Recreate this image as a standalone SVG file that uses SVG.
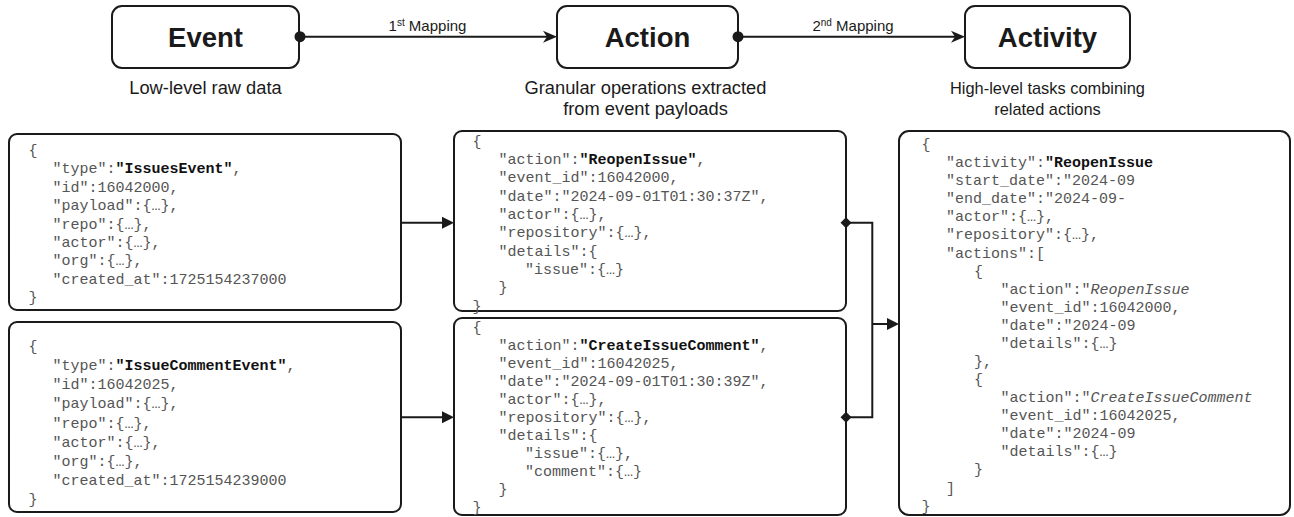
<svg xmlns="http://www.w3.org/2000/svg" width="1294" height="517" viewBox="0 0 1294 517">
<style>
.box{fill:#fff;stroke:#1a1a1a;stroke-width:2}
.title{font-family:"Liberation Sans",Arial,sans-serif;font-weight:bold;font-size:27.5px;fill:#1a1a1a;text-anchor:middle}
.sub{font-family:"Liberation Sans",Arial,sans-serif;font-size:18.3px;fill:#1a1a1a;text-anchor:middle}
.sub2{font-family:"Liberation Sans",Arial,sans-serif;font-size:16.4px;fill:#1a1a1a;text-anchor:middle}
.lbl{font-family:"Liberation Sans",Arial,sans-serif;font-size:15px;fill:#1a1a1a;text-anchor:middle}
.code{font-family:"Liberation Mono","Courier New",monospace;font-size:15px;fill:#555;white-space:pre}
.b{font-weight:bold;fill:#111}
.i{font-style:italic}
.ln{fill:none;stroke:#1a1a1a;stroke-width:2}
.hd{fill:#1a1a1a;stroke:none}
</style>

<g id="node-event">
<rect class="box" x="112" y="6" width="187" height="62" rx="10"/>
<text class="title" x="205.5" y="46.5">Event</text>
<text class="sub" x="205.5" y="94">Low-level raw data</text>
</g>

<g id="node-action">
<rect class="box" x="557" y="6" width="181" height="62" rx="10"/>
<text class="title" x="647.5" y="46.5">Action</text>
<text class="sub" x="645.5" y="94">Granular operations extracted</text>
<text class="sub" x="645.5" y="115">from event payloads</text>
</g>

<g id="node-activity">
<rect class="box" x="965" y="6" width="165" height="62" rx="10"/>
<text class="title" x="1047.5" y="46.5">Activity</text>
<text class="sub2" x="1047.5" y="94">High-level tasks combining</text>
<text class="sub2" x="1047.5" y="115">related actions</text>
</g>

<g id="node-event-json-1">
<rect class="box" x="9" y="134" width="392" height="176" rx="8"/>
<text class="code">
<tspan x="28.5" y="154.7">{</tspan>
<tspan x="52.5" y="173.1">"type":<tspan class="b">"IssuesEvent"</tspan>,</tspan>
<tspan x="52.5" y="191.6">"id":16042000,</tspan>
<tspan x="52.5" y="210">"payload":{…},</tspan>
<tspan x="52.5" y="228.5">"repo":{…},</tspan>
<tspan x="52.5" y="246.9">"actor":{…},</tspan>
<tspan x="52.5" y="265.4">"org":{…},</tspan>
<tspan x="52.5" y="283.8">"created_at":1725154237000</tspan>
<tspan x="28.5" y="302.3">}</tspan>
</text>
</g>

<g id="node-event-json-2">
<rect class="box" x="9" y="322" width="392" height="190" rx="8"/>
<text class="code">
<tspan x="28.5" y="350.7">{</tspan>
<tspan x="52.5" y="369.9">"type":<tspan class="b">"IssueCommentEvent"</tspan>,</tspan>
<tspan x="52.5" y="389.1">"id":16042025,</tspan>
<tspan x="52.5" y="408.3">"payload":{…},</tspan>
<tspan x="52.5" y="427.5">"repo":{…},</tspan>
<tspan x="52.5" y="446.7">"actor":{…},</tspan>
<tspan x="52.5" y="465.9">"org":{…},</tspan>
<tspan x="52.5" y="485.1">"created_at":1725154239000</tspan>
<tspan x="28.5" y="504.3">}</tspan>
</text>
</g>

<g id="node-action-json-1">
<rect class="box" x="454" y="131" width="392" height="180" rx="8"/>
<text class="code">
<tspan x="472.5" y="145.7">{</tspan>
<tspan x="498.5" y="164">"action":<tspan class="b">"ReopenIssue"</tspan>,</tspan>
<tspan x="498.5" y="182.4">"event_id":16042000,</tspan>
<tspan x="498.5" y="200.7">"date":"2024-09-01T01:30:37Z",</tspan>
<tspan x="498.5" y="219">"actor":{…},</tspan>
<tspan x="498.5" y="237.4">"repository":{…},</tspan>
<tspan x="498.5" y="255.7">"details":{</tspan>
<tspan x="525" y="274">″issue":{…}</tspan>
<tspan x="498.5" y="292.3">}</tspan>
<tspan x="472.5" y="310.7">}</tspan>
</text>
</g>

<g id="node-action-json-2">
<rect class="box" x="454" y="318" width="392" height="197" rx="8"/>
<text class="code">
<tspan x="472.5" y="332">{</tspan>
<tspan x="498.5" y="350">"action":<tspan class="b">"CreateIssueComment"</tspan>,</tspan>
<tspan x="498.5" y="368">"event_id":16042025,</tspan>
<tspan x="498.5" y="386">"date":"2024-09-01T01:30:39Z",</tspan>
<tspan x="498.5" y="404">"actor":{…},</tspan>
<tspan x="498.5" y="422">"repository":{…},</tspan>
<tspan x="498.5" y="440">"details":{</tspan>
<tspan x="525" y="458">″issue":{…},</tspan>
<tspan x="525" y="476">"comment":{…}</tspan>
<tspan x="498.5" y="494">}</tspan>
<tspan x="472.5" y="512">}</tspan>
</text>
</g>

<g id="node-activity-json">
<rect class="box" x="899" y="131" width="391" height="384" rx="10"/>
<text class="code">
<tspan x="921.5" y="149">{</tspan>
<tspan x="946" y="167.1">"activity":<tspan class="b">"ReopenIssue</tspan></tspan>
<tspan x="946" y="185.2">"start_date":"2024-09</tspan>
<tspan x="946" y="203.2">"end_date":"2024-09-</tspan>
<tspan x="946" y="221.3">"actor":{…},</tspan>
<tspan x="946" y="239.4">"repository":{…},</tspan>
<tspan x="946" y="257.5">"actions":[</tspan>
<tspan x="974" y="275.6">{</tspan>
<tspan x="1000.5" y="293.6">"action":"<tspan class="i">ReopenIssue</tspan></tspan>
<tspan x="1000.5" y="311.7">"event_id":16042000,</tspan>
<tspan x="1000.5" y="329.8">"date":"2024-09</tspan>
<tspan x="1000.5" y="347.9">"details":{…}</tspan>
<tspan x="974" y="366">},</tspan>
<tspan x="974" y="384">{</tspan>
<tspan x="1000.5" y="402.1">"action":"<tspan class="i">CreateIssueComment</tspan></tspan>
<tspan x="1000.5" y="420.2">"event_id":16042025,</tspan>
<tspan x="1000.5" y="438.3">"date":"2024-09</tspan>
<tspan x="1000.5" y="456.4">"details":{…}</tspan>
<tspan x="974" y="474.4">}</tspan>
<tspan x="946" y="492.5">]</tspan>
<tspan x="921.5" y="510.6">}</tspan>
</text>
</g>

<g id="connectors">
<line class="ln" x1="300" y1="36.7" x2="550" y2="36.7"/>
<circle class="hd" cx="300" cy="36.7" r="5.5"/>
<path class="hd" d="M557,36.7 L543,30.7 L547,36.7 L543,42.7 Z"/>
<text class="lbl" x="427.5" y="31">1<tspan font-size="10" dy="-5">st</tspan><tspan dy="5"> Mapping</tspan></text>

<line class="ln" x1="738" y1="36.7" x2="958" y2="36.7"/>
<circle class="hd" cx="738" cy="36.7" r="5.5"/>
<path class="hd" d="M965,36.7 L951,30.7 L955,36.7 L951,42.7 Z"/>
<text class="lbl" x="853" y="31">2<tspan font-size="10" dy="-5">nd</tspan><tspan dy="5"> Mapping</tspan></text>

<line class="ln" x1="401" y1="222.7" x2="444" y2="222.7"/>
<path class="hd" d="M454,222.7 L442,216.7 L442,228.7 Z"/>
<line class="ln" x1="401" y1="417.3" x2="444" y2="417.3"/>
<path class="hd" d="M454,417.3 L442,411.3 L442,423.3 Z"/>

<path class="ln" d="M846,222.7 H872.3 V417.3 H846"/>
<path class="hd" d="M846,217.2 L851.5,222.7 L846,228.2 L840.5,222.7 Z"/>
<path class="hd" d="M846,411.8 L851.5,417.3 L846,422.8 L840.5,417.3 Z"/>
<line class="ln" x1="872.3" y1="324" x2="889" y2="324"/>
<path class="hd" d="M899,324 L887,318 L887,330 Z"/>
</g>
</svg>
